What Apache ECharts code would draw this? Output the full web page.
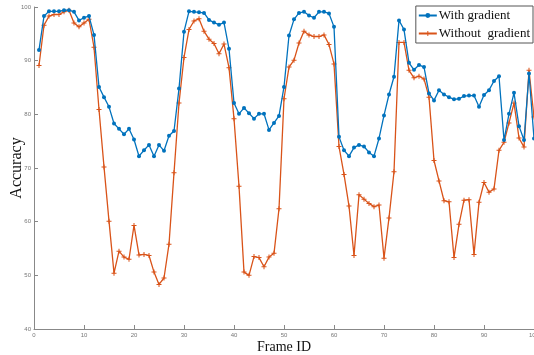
<!DOCTYPE html>
<html><head><meta charset="utf-8">
<script src="https://cdn.jsdelivr.net/npm/echarts@6/dist/echarts.min.js"></script>
<style>html,body{margin:0;padding:0;background:#fff}#c{width:534px;height:355px}</style>
</head><body><div id="c"></div>
<script>
const frames = Array.from({length: 100}, (_, i) => i + 1);
const withGradient = [
  92.0, 98.3, 99.2, 99.2, 99.2, 99.4, 99.4, 99.1, 97.5, 98.0,
  98.3, 94.8, 85.1, 83.2, 81.4, 78.3, 77.3, 76.3, 77.3, 75.3,
  72.2, 73.3, 74.3, 72.2, 74.3, 73.2, 76.0, 76.9, 84.8, 95.4,
  99.2, 99.1, 99.0, 98.9, 97.6, 97.1, 96.7, 97.1, 92.2, 82.1,
  80.1, 81.2, 80.2, 79.2, 80.1, 80.1, 77.1, 78.4, 79.7, 85.1,
  94.7, 97.7, 98.9, 99.1, 98.4, 98.0, 99.1, 99.1, 98.8, 96.3,
  75.8, 73.3, 72.2, 73.8, 74.3, 74.0, 72.9, 72.2, 75.5, 79.8,
  83.7, 87.0, 97.5, 95.8, 89.6, 88.3, 89.2, 88.8, 83.9, 82.6,
  84.5, 83.7, 83.2, 82.8, 82.9, 83.4, 83.5, 83.5, 81.4, 83.6,
  84.5, 86.2, 87.1, 75.2, 80.1, 84.0, 77.8, 75.2, 87.6, 75.5
];
const withoutGradient = [
  89.1, 96.6, 98.3, 98.6, 98.6, 99.1, 99.4, 97.0, 96.3, 97.0,
  97.7, 92.5, 80.9, 70.2, 60.1, 50.4, 54.5, 53.4, 53.0, 59.3,
  53.8, 53.9, 53.7, 50.6, 48.3, 49.5, 55.8, 69.1, 82.1, 90.6,
  95.8, 97.4, 97.8, 95.5, 94.0, 93.2, 91.3, 93.1, 88.7, 79.2,
  66.6, 50.6, 50.0, 53.5, 53.3, 51.6, 53.4, 54.1, 62.4, 82.9,
  88.8, 90.1, 93.3, 95.5, 94.8, 94.5, 94.5, 94.8, 93.0, 89.4,
  74.0, 68.8, 62.9, 53.7, 65.0, 64.2, 63.4, 62.8, 63.1, 53.2,
  60.7, 69.3, 93.4, 93.4, 88.2, 86.8, 87.1, 86.6, 83.2, 71.4,
  67.6, 63.9, 63.7, 53.3, 59.5, 64.0, 64.1, 53.9, 63.6, 67.3,
  65.5, 66.1, 73.3, 74.8, 78.4, 82.1, 75.6, 73.9, 88.2, 79.5
];
const seriesNames = ['With gradient', 'Without  gradient'];
const xTicks = {min: 0, max: 100, interval: 10};
const yTicks = {min: 40, max: 100, interval: 10};

const plus = 'path://M4,0h2v4h4v2h-4v4h-2v-4h-4v-2h4z';
const serif = '"Liberation Serif", "DejaVu Serif", serif';
const axisCommon = {
  axisLine: {show: true, lineStyle: {color: '#888', width: 1}},
  axisTick: {show: true, inside: true, length: 4, lineStyle: {color: '#888'}},
  splitLine: {show: false},
  nameMoveOverlap: false
};
const chart = echarts.init(document.getElementById('c'), null, {renderer: 'canvas'});
chart.setOption({
  animation: false,
  backgroundColor: '#fff',
  grid: {left: 34, right: 0, top: 7, bottom: 26, containLabel: false, outerBoundsMode: 'none'},
  legend: {
    orient: 'vertical', right: 1, top: 6, itemGap: 5, itemWidth: 18, itemHeight: 6,
    padding: [3, 3, 3, 2], borderColor: '#555', borderWidth: 1, backgroundColor: '#fff',
    textStyle: {fontFamily: serif, fontSize: 13, color: '#111', padding: [0, 0, 0, -3]},
    data: seriesNames
  },
  xAxis: Object.assign({type: 'value', name: 'Frame ID', nameLocation: 'middle', nameGap: 11,
    nameTextStyle: {fontFamily: serif, fontSize: 14, color: '#111'}}, xTicks, axisCommon,
    {axisLabel: {color: '#777', fontSize: 6, margin: 3, showMaxLabel: true}}),
  yAxis: Object.assign({type: 'value', name: 'Accuracy', nameLocation: 'middle', nameGap: 9,
    nameTextStyle: {fontFamily: serif, fontSize: 16, color: '#111'}}, yTicks, axisCommon,
    {axisLabel: {color: '#777', fontSize: 6, margin: 3}}),
  series: [
    {name: seriesNames[0], type: 'line', data: frames.map((f, i) => [f, withGradient[i]]),
     symbol: 'circle', symbolSize: 4, showAllSymbol: true,
     itemStyle: {color: '#0072BD'}, lineStyle: {color: '#0072BD', width: 1.3}, z: 3},
    {name: seriesNames[1], type: 'line', data: frames.map((f, i) => [f, withoutGradient[i]]),
     symbol: plus, symbolSize: 5, showAllSymbol: true,
     itemStyle: {color: '#D95319'}, lineStyle: {color: '#D95319', width: 1.3}, z: 2}
  ]
});
</script></body></html>
